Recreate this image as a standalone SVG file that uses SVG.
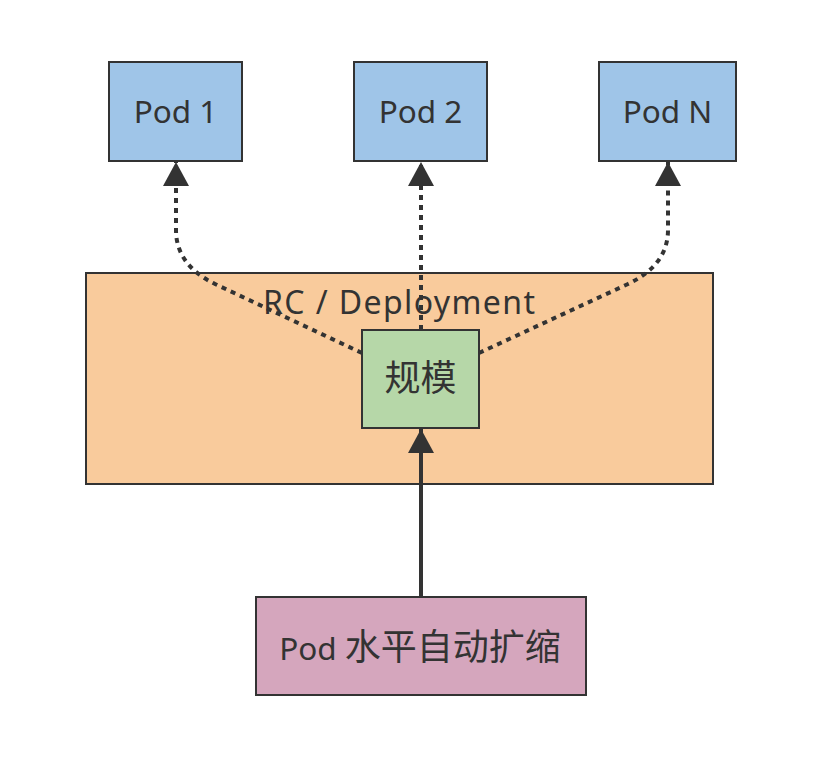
<svg xmlns="http://www.w3.org/2000/svg" width="839" height="757" viewBox="0 0 839 757">
<style>
  .box { stroke: #333333; stroke-width: 2; }
  .pod { fill: #9fc5e8; }
  .grp { fill: #f9cb9c; }
  .scale { fill: #b6d7a8; }
  .hpa { fill: #d5a6bd; }
  .lbl { font-family: "Noto Sans", "Noto Sans CJK SC", sans-serif; fill: #333333; text-anchor: middle; }
  .dot { fill: none; stroke: #333333; stroke-width: 4; stroke-dasharray: 5 5; }
  .solid { fill: none; stroke: #333333; stroke-width: 4; }
</style>
<defs>
  <marker id="arrow" markerUnits="userSpaceOnUse" markerWidth="26" markerHeight="26" refX="24" refY="13" orient="auto" viewBox="0 0 24 26">
    <path d="M0,0 L24,13 L0,26 z" fill="#333333"/>
  </marker>
</defs>
<rect width="839" height="757" fill="#ffffff"/>
<g id="rc-deployment">
  <rect class="box grp" x="86" y="273" width="627" height="211"/>
  <text class="lbl" x="399" y="314" font-size="32" textLength="272">RC / Deployment</text>
</g>
<g id="pod1">
  <rect class="box pod" x="109" y="62" width="133" height="99"/>
  <text class="lbl" x="175.5" y="123" font-size="31.5">Pod 1</text>
</g>
<g id="pod2">
  <rect class="box pod" x="354" y="62" width="133" height="99"/>
  <text class="lbl" x="420.5" y="123" font-size="31.5">Pod 2</text>
</g>
<g id="podN">
  <rect class="box pod" x="599" y="62" width="137" height="99"/>
  <text class="lbl" x="667.5" y="123" font-size="31.5">Pod N</text>
</g>
<g id="scale">
  <rect class="box scale" x="362" y="330" width="117" height="98"/>
  <text class="lbl" x="420.5" y="391" font-size="36">规模</text>
</g>
<g id="hpa">
  <rect class="box hpa" x="256" y="597" width="330" height="98"/>
  <text class="lbl" x="420" y="660"><tspan font-size="31.5">Pod </tspan><tspan font-size="36">水平自动扩缩</tspan></text>
</g>
<g id="connectors">
  <path class="dot" d="M362,353 L215,284 Q176,265 176,230 L176,162" marker-end="url(#arrow)"/>
  <path class="dot" d="M421,330 L421,162" marker-end="url(#arrow)"/>
  <path class="dot" d="M479,353 L628,284 Q668,265 668,230 L668,162" marker-end="url(#arrow)"/>
  <path class="solid" d="M421,597 L421,429" marker-end="url(#arrow)"/>
</g>
</svg>
